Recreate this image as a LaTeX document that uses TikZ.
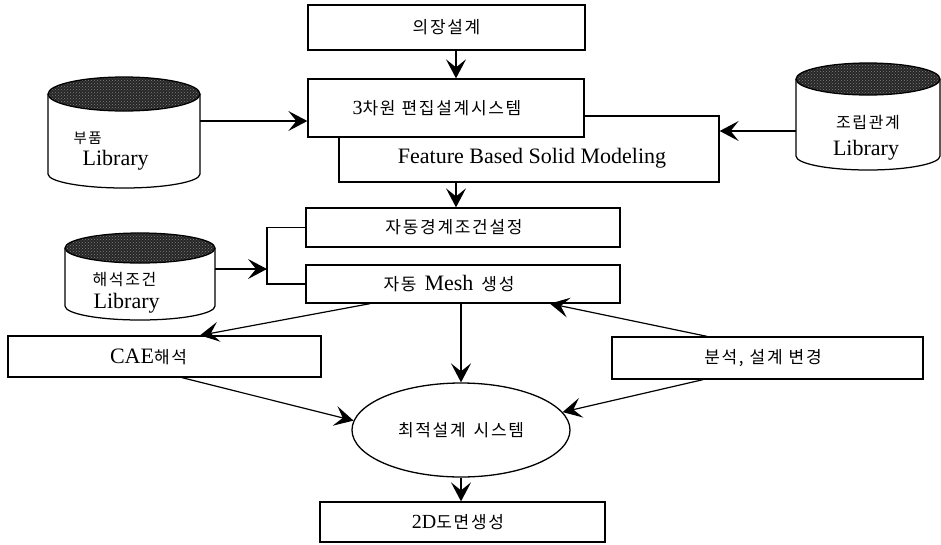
\documentclass[tikz,border=0pt]{standalone}
\usepackage{fontspec}
\setmainfont{Liberation Serif}
\newfontfamily\kofont{Noto Sans CJK KR}[LetterSpace=10]
\usetikzlibrary{arrows.meta,shapes.geometric,patterns}
\newcommand\kor[2][17]{{\kofont\fontsize{#1}{#1}\selectfont #2}}
\newcommand\cylshape[6]{% cx, rx, ytop, ry top, ybot, ry bot
  \filldraw[fill=white] (#1-#2,#3) -- (#1-#2,#5) arc[start angle=180,end angle=360,x radius=#2 pt,y radius=#6 pt] -- (#1+#2,#3);
  \fill[black!85] (#1,#3) ellipse[x radius=#2 pt,y radius=#4 pt];
  \fill[pattern=crosshatch dots, pattern color=black!50] (#1,#3) ellipse[x radius=#2 pt,y radius=#4 pt];
  \draw (#1,#3) ellipse[x radius=#2 pt,y radius=#4 pt];
}
\begin{document}
\begin{tikzpicture}[x=1pt,y=-1pt,line width=1.25pt,
  arr/.style={-{Stealth[length=19pt,width=20pt,inset=8pt]}, line width=1.2pt},
  box/.style={draw, fill=white, inner sep=0pt, line width=1.3pt, font=\fontsize{22}{24}\selectfont},
  lat/.style={font=\fontsize{22}{24}\selectfont},
  holder/.style={inner sep=0pt, outer sep=0pt}]
\useasboundingbox (0,0) rectangle (941,544);

% cylinders
\cylshape{124}{76}{94}{17}{174}{14}
\node[holder, minimum width=152pt, minimum height=111pt] (c1) at (124,132.5) {};
\node[anchor=west, inner sep=0pt] (c1k) at (73,138.5) {\kor[14.5]{부품}};
\node[lat, anchor=base west, inner sep=0pt] (c1l) at (82,165) {Library};

\cylshape{868}{72}{79}{16}{156}{14}
\node[holder, minimum width=144pt, minimum height=107pt] (c2) at (868,116.5) {};
\node[inner sep=0pt] (c2k) at (868,123) {\kor[16]{조립관계}};
\node[lat, anchor=base, inner sep=0pt] (c2l) at (866,155) {Library};

\cylshape{140}{75}{248}{15}{306}{14}
\node[holder, minimum width=150pt, minimum height=87pt] (c3) at (140,276.5) {};
\node[anchor=west, inner sep=0pt] (c3k) at (92,280) {\kor[16]{해석조건}};
\node[lat, anchor=base west, inner sep=0pt] (c3l) at (93,308) {Library};

% boxes
\node[box, minimum width=277pt, minimum height=45pt] (b1) at (446.5,27.5) {\kor{의장설계}};
\node[box, minimum width=380pt, minimum height=66pt] (b3) at (529,149) {};
\node[lat, inner sep=0pt] (t3) at (532,158) {Feature Based Solid Modeling};
\node[box, minimum width=276pt, minimum height=58pt] (b2) at (446,108) {{\fontsize{20}{20}\selectfont 3}\kor{차원\hspace{6pt}편집설계시스템}\hspace*{18pt}};
\node[box, minimum width=314pt, minimum height=39pt] (b4) at (463,227.5) {\kor{자동경계조건설정}\hspace*{18pt}};
\node[box, minimum width=314pt, minimum height=38pt] (b5) at (463,284) {\kor{자동}\hspace{8pt}Mesh\hspace{8pt}\kor{생성}\hspace*{28pt}};
\node[box, minimum width=313pt, minimum height=41pt] (b6) at (164.5,356.5) {CAE\kor{해석}\hspace*{32pt}};
\node[box, minimum width=311pt, minimum height=42pt] (b7) at (767.5,358) {\kor{분석,\hspace{6pt}설계\hspace{6pt}변경}\hspace*{9pt}};
\node[draw, ellipse, fill=white, inner sep=0pt, line width=1.3pt, minimum width=218pt, minimum height=94pt] (e) at (461,430) {\kor{최적설계\hspace{8pt}시스템}};
\node[box, minimum width=285pt, minimum height=40pt] (b8) at (462.5,522) {{\fontsize{20}{22}\selectfont 2D}\kor{도면생성}\hspace*{9pt}};

% bracket
\coordinate (brk) at (267,269);
\draw (b4.west) -- (brk |- b4.west) -- (brk |- b5.west) -- (b5.west);

% arrows
\coordinate (colA) at (456,0);
\draw[arr] (b1.south -| colA) -- (b2.north -| colA);
\draw[arr] (b3.south -| colA) -- (b4.north -| colA);
\draw[arr] (c1.east |- 0,121) -- (b2.west |- 0,121);
\draw[arr] (c2.west |- 0,131) -- (b3.east |- 0,131);
\draw[arr] (c3.east |- brk) -- (brk);
\draw[arr] (b5.south -| e.north) -- (e.north);
\draw[arr] (e.south) -- (b8.north -| e.south);
\draw[arr] (b5.south -| 370,0) -- (b6.north -| 200,0);
\draw[arr] (b6.south -| 182,0) -- (e.175);
\draw[arr] (b7.north -| 707,0) -- (b5.south -| 550,0);
\draw[arr] (b7.south -| 703,0) -- (e.10);
\end{tikzpicture}
\end{document}
